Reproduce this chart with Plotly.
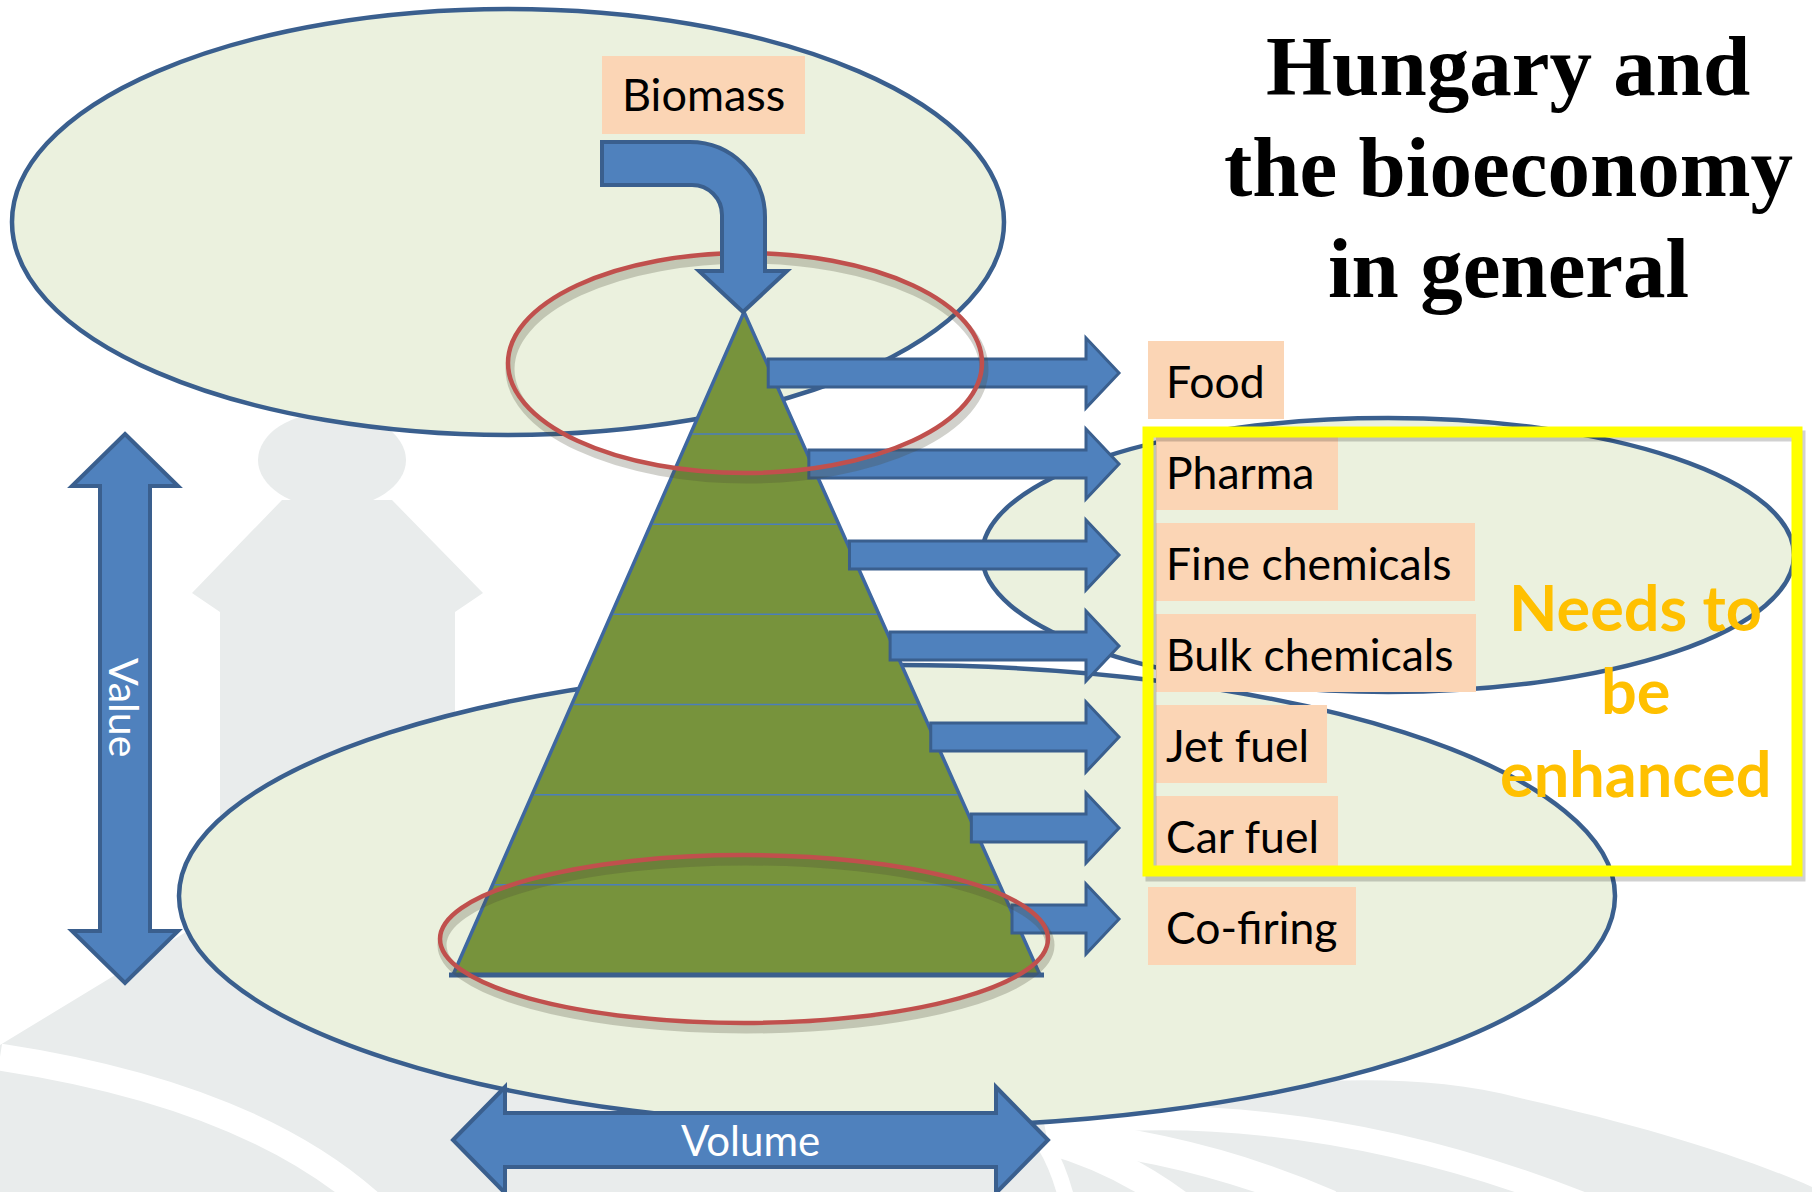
import plotly.graph_objects as go

# ---------------- data ----------------
products = ["Food", "Pharma", "Fine chemicals", "Bulk chemicals", "Jet fuel", "Car fuel", "Co-firing"]
enhanced = ["Pharma", "Fine chemicals", "Bulk chemicals", "Jet fuel", "Car fuel"]
source_label = "Biomass"
title_lines = ["Hungary and", "the bioeconomy", "in general"]
note_lines = ["Needs to", "be", "enhanced"]
value_label = "Value"
volume_label = "Volume"

# ---------------- layout / style constants ----------------
W, H = 1812, 1192
BLUE_FILL = "#4F81BD"
BLUE_LINE = "#3A5F8E"
ELL_FILL = "#EBF1DE"
PEACH = "#FBD5B5"
GREEN = "#77933C"
RED = "#C0504D"
YELLOW = "#FFFF00"
ORANGE = "#FFC000"
WM_GRAY = "#E9ECEC"
LABEL_FONT = "Lato, Carlito, Calibri, sans-serif"
TITLE_FONT = "Liberation Serif, Times New Roman, serif"

box_right = {"Food": 1284, "Pharma": 1338, "Fine chemicals": 1475, "Bulk chemicals": 1476,
             "Jet fuel": 1327, "Car fuel": 1338, "Co-firing": 1356}

APEX = (744, 312)
BASE_Y, BASE_L, BASE_R = 975, 453, 1040


def left_x(y):
    return APEX[0] - (y - APEX[1]) / (BASE_Y - APEX[1]) * (APEX[0] - BASE_L)


def right_x(y):
    return APEX[0] + (y - APEX[1]) / (BASE_Y - APEX[1]) * (BASE_R - APEX[0])


def row_y(i):
    return 373 + 91 * i


shapes = []
ann = []


def path(d, fill=None, line=None, lw=0, opacity=1.0):
    s = dict(type="path", path=d, xref="x", yref="y", opacity=opacity,
             line=dict(color=line if line else "rgba(0,0,0,0)", width=lw))
    if fill:
        s["fillcolor"] = fill
    shapes.append(s)


def ellipse(cx, cy, rx, ry, fill=None, line=None, lw=0):
    s = dict(type="circle", xref="x", yref="y", x0=cx - rx, x1=cx + rx, y0=cy - ry, y1=cy + ry,
             line=dict(color=line if line else "rgba(0,0,0,0)", width=lw))
    if fill:
        s["fillcolor"] = fill
    shapes.append(s)


def rect(x0, y0, x1, y1, fill=None, line=None, lw=0):
    s = dict(type="rect", xref="x", yref="y", x0=x0, x1=x1, y0=y0, y1=y1,
             line=dict(color=line if line else "rgba(0,0,0,0)", width=lw))
    if fill:
        s["fillcolor"] = fill
    shapes.append(s)


def text(x, y, t, size, color="black", family=LABEL_FONT, xanchor="center", angle=0):
    ann.append(dict(x=x, y=y, xref="x", yref="y", text=t, showarrow=False,
                    xanchor=xanchor, yanchor="middle", textangle=angle,
                    font=dict(family=family, size=size, color=color)))


# ---------------- watermark (background) ----------------
path("M 0,1045 L 420,790 L 1150,790 L 1200,1095 C 1300,1078 1420,1072 1520,1098 "
     "C 1640,1125 1740,1155 1812,1187 L 1812,1192 L 0,1192 Z", fill=WM_GRAY)
# white stripes
path("M 0,1057 Q 250,1095 372,1205", line="white", lw=27)
path("M 1045,1128 C 1150,1108 1350,1112 1585,1205", line="white", lw=24)
path("M 1045,1145 Q 1060,1170 1068,1205", line="white", lw=16)
path("M 1048,1140 Q 1120,1160 1180,1205", line="white", lw=28)
path("M 1052,1134 Q 1200,1148 1330,1205", line="white", lw=30)
# silhouette
ellipse(332, 460, 74, 48, fill=WM_GRAY)
path("M 282,500 L 192,593 L 220,612 L 220,900 L 455,900 L 455,612 L 483,593 L 392,500 Z", fill=WM_GRAY)

# ---------------- big light-green ellipses ----------------
ellipse(508, 222, 496, 213, fill=ELL_FILL, line=BLUE_LINE, lw=4.5)
ellipse(1388, 555, 406, 137, fill=ELL_FILL, line=BLUE_LINE, lw=4.5)
ellipse(897, 896, 718, 231, fill=ELL_FILL, line=BLUE_LINE, lw=4.5)

# ---------------- label boxes ----------------
rect(602, 56, 805, 134, fill=PEACH)
for i, p in enumerate(products):
    cy = row_y(i) + 7
    x0 = 1156 if p in enhanced else 1148
    rect(x0, cy - 39, box_right[p], cy + 39, fill=PEACH)

# ---------------- pyramid ----------------
path(f"M {APEX[0]},{APEX[1]} L {BASE_R},{BASE_Y} L {BASE_L},{BASE_Y} Z",
     fill=GREEN, line="#3E67A0", lw=3.5)
n = len(products)
step = (BASE_Y - 434) / (n - 1)
for k in range(n - 1):
    y = 434 + step * k
    path(f"M {left_x(y) + 2},{y} L {right_x(y) - 2},{y}", line="#4A7EBB", lw=1.5)
path(f"M {BASE_L - 4},{BASE_Y} L {BASE_R + 4},{BASE_Y}", line=BLUE_LINE, lw=5)

# ---------------- product arrows ----------------
XB, XT, HS, HH = 1086, 1119, 14, 35
for i, p in enumerate(products):
    yc = row_y(i)
    x0 = right_x(yc) - 3
    d = (f"M {x0},{yc - HS} L {XB},{yc - HS} L {XB},{yc - HH} L {XT},{yc} "
         f"L {XB},{yc + HH} L {XB},{yc + HS} L {x0},{yc + HS} Z")
    path(d, fill=BLUE_FILL, line=BLUE_LINE, lw=3)

# ---------------- red ellipses (with shadow) ----------------
for cx, cy, rx, ry in [(745, 363, 237, 110), (744, 939, 304, 84)]:
    ellipse(cx + 2, cy + 6, rx, ry, line="rgba(70,70,50,0.25)", lw=9)
    ellipse(cx, cy, rx, ry, line=RED, lw=4.5)

# ---------------- biomass bent arrow ----------------
k = 0.5523
d = ("M 602,142 L 690,142 "
     f"C {690 + 75 * k},142 765,{217 - 75 * k} 765,217 "
     "L 765,271 L 787,271 L 743,312 L 699,271 L 722,271 L 722,215 "
     f"C 722,{215 - 30 * k} {692 + 30 * k},185 692,185 "
     "L 602,185 Z")
path(d, fill=BLUE_FILL, line=BLUE_LINE, lw=4)

# ---------------- yellow frame ----------------
rect(1151, 436, 1800, 876, line="rgba(0,0,0,0.18)", lw=11)
rect(1148, 432, 1797, 871, line=YELLOW, lw=11)

# ---------------- value / volume arrows ----------------
path("M 125,434 L 178,486 L 150,486 L 150,931 L 178,931 L 125,983 L 72,931 L 100,931 "
     "L 100,486 L 72,486 Z", fill=BLUE_FILL, line=BLUE_LINE, lw=4)
path("M 453,1140 L 505,1087 L 505,1113 L 996,1113 L 996,1087 L 1048,1140 L 996,1193 "
     "L 996,1167 L 505,1167 L 505,1193 Z", fill=BLUE_FILL, line=BLUE_LINE, lw=4)

# ---------------- texts ----------------
text(703.5, 94, source_label, 45)
for i, p in enumerate(products):
    text(1164, row_y(i) + 7, p, 44.5, xanchor="left")
for j, t in enumerate(title_lines):
    text(1508, 66 + 101 * j, f"<b>{t}</b>", 85, family=TITLE_FONT)
for j, t in enumerate(note_lines):
    text(1635, 606 + 83 * j, f"<b>{t}</b>", 63, color=ORANGE)
text(125, 707, value_label, 41, color="white", angle=90)
text(750, 1140, volume_label, 42, color="white")

fig = go.Figure()
fig.update_layout(
    width=W, height=H,
    margin=dict(l=0, r=0, t=0, b=0),
    paper_bgcolor="white", plot_bgcolor="white",
    xaxis=dict(range=[0, W], visible=False, fixedrange=True),
    yaxis=dict(range=[H, 0], visible=False, fixedrange=True),
    shapes=shapes, annotations=ann, showlegend=False,
)
fig.write_html(
    "out.html",
    config={"displayModeBar": False},
    post_script="document.body.style.margin='0';document.body.style.overflow='hidden';"
                "document.documentElement.style.overflow='hidden';",
)
